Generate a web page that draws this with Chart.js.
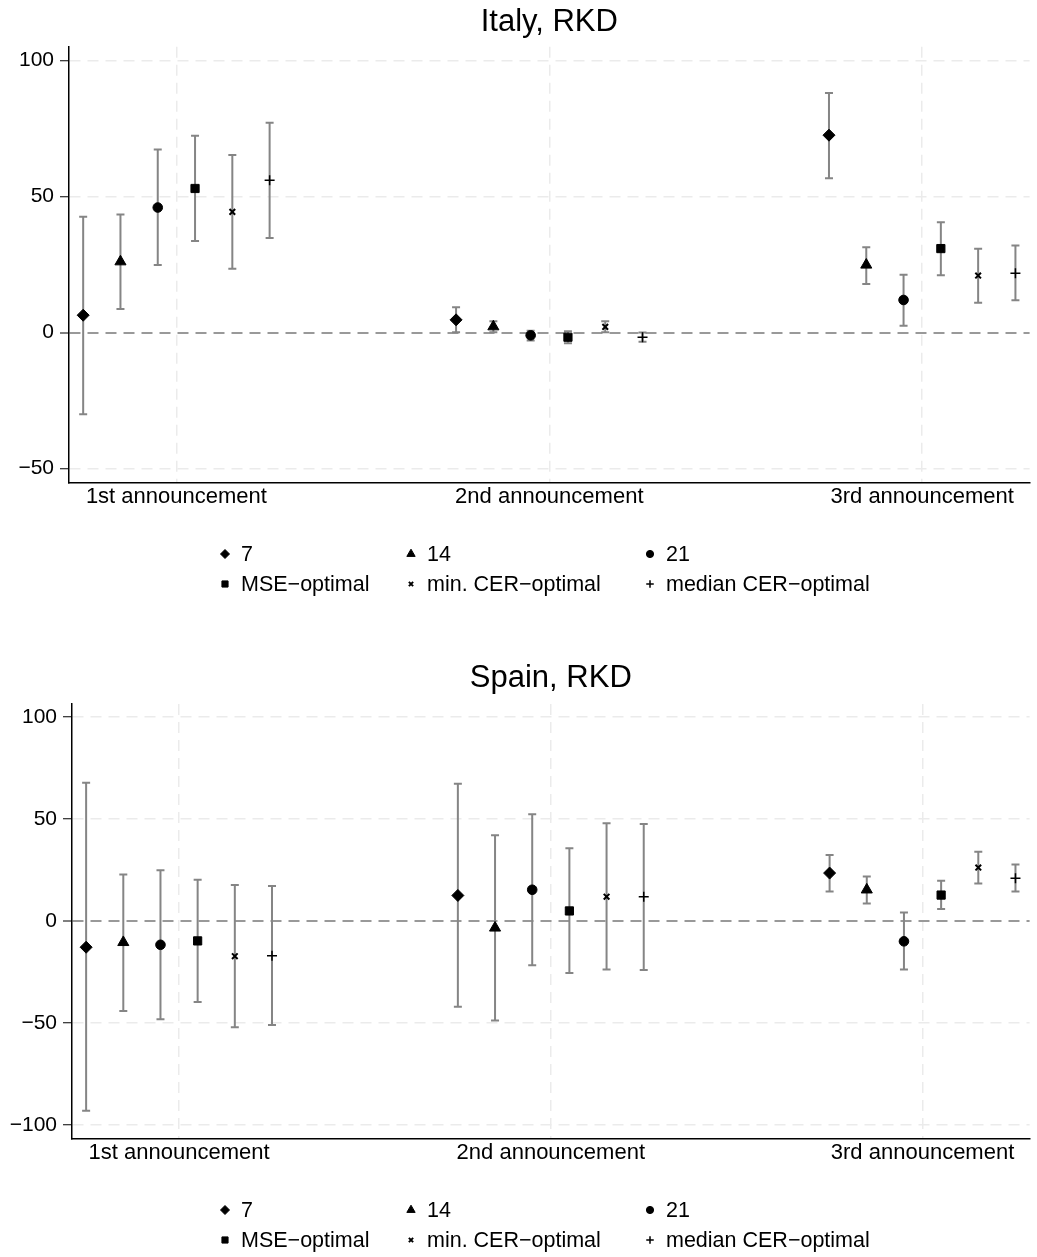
<!DOCTYPE html>
<html lang="en">
<head>
    <meta charset="UTF-8">
    <title>RKD estimates by announcement</title>
    <script src="https://cdn.jsdelivr.net/npm/chart.js"></script>
    <style>
        body { margin: 0; background: #fff; }
        .panel { position: absolute; left: 0; width: 1037px; }
        #italy-panel { top: 0; height: 628px; }
        #spain-panel { top: 628px; height: 629px; }
    </style>
</head>
<body>
    <div class="panel" id="italy-panel"><canvas id="italy-chart" width="1037" height="628"></canvas></div>
    <div class="panel" id="spain-panel"><canvas id="spain-chart" width="1037" height="629"></canvas></div>

    <script>
        // Categories and bandwidth choices
        const announcements = ['1st announcement', '2nd announcement', '3rd announcement'];
        const bandwidths = ['7', '14', '21', 'MSE\u2212optimal', 'min. CER\u2212optimal', 'median CER\u2212optimal'];

        // Italy: one row per bandwidth, one column per announcement
        const italyEst = [
            [6.4, 4.7, 72.6],
            [26.1, 2.2, 24.9],
            [46.0, -1.0, 12.0],
            [53.0, -1.7, 30.9],
            [44.4, 2.1, 21.0],
            [56.0, -1.7, 21.8]
        ];
        const italyLow = [
            [-30.0, 0.1, 56.8],
            [8.7, 0.1, 17.9],
            [24.9, -2.9, 2.5],
            [33.7, -3.9, 21.1],
            [23.5, 0.1, 11.0],
            [34.8, -3.4, 11.9]
        ];
        const italyHigh = [
            [42.6, 9.3, 88.1],
            [43.4, 4.2, 31.4],
            [67.3, 0.7, 21.3],
            [72.4, 0.5, 40.6],
            [65.3, 4.2, 30.8],
            [77.2, 0.0, 32.0]
        ];
        const italyTicks = [-50, 0, 50, 100];

        // Spain
        const spainEst = [
            [-12.9, 12.5, 23.5],
            [-10.5, -3.4, 15.3],
            [-11.7, 15.3, -10.0],
            [-9.8, 4.9, 12.7],
            [-17.3, 11.9, 26.2],
            [-17.1, 11.9, 21.0]
        ];
        const spainLow = [
            [-93.1, -42.1, 14.5],
            [-44.2, -48.9, 8.6],
            [-48.3, -21.7, -23.8],
            [-39.8, -25.6, 5.9],
            [-52.2, -23.8, 18.4],
            [-51.0, -24.1, 14.5]
        ];
        const spainHigh = [
            [67.8, 67.3, 32.4],
            [22.8, 42.0, 21.8],
            [24.9, 52.3, 4.1],
            [20.2, 35.7, 19.7],
            [17.6, 47.9, 33.9],
            [17.1, 47.6, 27.7]
        ];
        const spainTicks = [-100, -50, 0, 50, 100];

        Chart.defaults.font.family = "'Liberation Sans', Arial, sans-serif";
        Chart.defaults.color = '#000';

        // marker look for each bandwidth
        const markerStyle = ['rectRot', 'triangle', 'circle', 'rect', 'crossRot', 'cross'];
        const markerRadius = [6, 6.4, 4.8, 5.8, 4, 5];
        const markerBorder = [1, 1, 1, 1, 2, 1.5];

        // vertical confidence intervals with caps, drawn under the markers
        const errorBars = {
            id: 'errorBars',
            beforeDatasetsDraw(chart) {
                const { ctx, scales: { x, y } } = chart;
                ctx.save();
                ctx.strokeStyle = '#858585';
                ctx.lineWidth = 2;
                chart.data.datasets.forEach(ds => {
                    ds.data.forEach((pt, i) => {
                        const px = x.getPixelForValue(pt.x);
                        const top = y.getPixelForValue(ds.high[i]);
                        const bot = y.getPixelForValue(ds.low[i]);
                        ctx.beginPath();
                        ctx.moveTo(px, top); ctx.lineTo(px, bot);
                        ctx.moveTo(px - 4, top); ctx.lineTo(px + 4, top);
                        ctx.moveTo(px - 4, bot); ctx.lineTo(px + 4, bot);
                        ctx.stroke();
                    });
                });
                ctx.restore();
            }
        };

        // legend in a 3 x 2 grid below the plot
        const markerLegend = {
            id: 'markerLegend',
            afterDraw(chart, args, opts) {
                const ctx = chart.ctx;
                const cols = [225, 411, 650];
                ctx.save();
                ctx.font = "21.5px 'Liberation Sans', Arial, sans-serif";
                ctx.textBaseline = 'middle';
                ctx.fillStyle = '#000';
                ctx.strokeStyle = '#000';
                chart.data.datasets.forEach((ds, k) => {
                    const cx = cols[k % 3];
                    const cy = opts.rows[Math.floor(k / 3)];
                    ctx.lineWidth = markerBorder[k];
                    Chart.helpers.drawPoint(ctx, {
                        pointStyle: markerStyle[k],
                        radius: markerRadius[k] * 0.75,
                        rotation: 0,
                        borderWidth: markerBorder[k]
                    }, cx, cy);
                    ctx.fillText(ds.label, cx + 16, cy + 1);
                });
                ctx.restore();
            }
        };

        function buildDatasets(est, low, high) {
            return bandwidths.map((label, k) => ({
                label: label,
                data: est[k].map((v, g) => ({ x: g + 1 + (k - 2.5) * 0.1, y: v })),
                low: low[k],
                high: high[k],
                pointStyle: markerStyle[k],
                pointRadius: markerRadius[k],
                pointHoverRadius: markerRadius[k],
                pointBorderWidth: markerBorder[k],
                backgroundColor: '#000',
                borderColor: '#000',
                showLine: false
            }));
        }

        function makeChart(id, cfg) {
            return new Chart(document.getElementById(id), {
                type: 'scatter',
                data: { datasets: buildDatasets(cfg.est, cfg.low, cfg.high) },
                options: {
                    responsive: false,
                    animation: false,
                    layout: { padding: { left: 0, right: cfg.padRight, top: 0, bottom: cfg.padBottom } },
                    plugins: {
                        legend: { display: false },
                        tooltip: { enabled: false },
                        title: {
                            display: true,
                            text: cfg.title,
                            fullSize: false,
                            font: { size: 31, weight: 'normal' },
                            color: '#000',
                            padding: cfg.titlePad
                        },
                        markerLegend: { rows: cfg.legendRows }
                    },
                    scales: {
                        x: {
                            type: 'linear',
                            min: 0.712,
                            max: 3.288,
                            afterBuildTicks: s => { s.ticks = [1, 2, 3].map(v => ({ value: v })); },
                            afterFit: s => { s.height = 30; },
                            ticks: {
                                font: { size: 22 },
                                color: '#000',
                                padding: 1,
                                maxRotation: 0,
                                callback: v => announcements[v - 1]
                            },
                            grid: { color: '#ebebeb', lineWidth: 1.5, drawTicks: false },
                            border: { color: '#000', width: 1.5, dash: [11, 7] }
                        },
                        y: {
                            min: cfg.yMin,
                            max: cfg.yMax,
                            afterBuildTicks: s => { s.ticks = cfg.ticks.map(v => ({ value: v })); },
                            afterFit: s => { s.width = cfg.axisWidth; },
                            ticks: {
                                font: { size: 21 },
                                color: '#000',
                                padding: 6,
                                callback: v => v < 0 ? '\u2212' + Math.abs(v) : String(v)
                            },
                            grid: {
                                color: c => c.tick && c.tick.value === 0 ? '#999999' : '#ebebeb',
                                lineWidth: c => c.tick && c.tick.value === 0 ? 2 : 1.5,
                                tickColor: '#000',
                                tickWidth: 1,
                                tickLength: 9
                            },
                            border: { color: '#000', width: 1.5, dash: [11, 7] }
                        }
                    }
                },
                plugins: [errorBars, markerLegend]
            });
        }

        makeChart('italy-chart', {
            title: 'Italy, RKD',
            est: italyEst, low: italyLow, high: italyHigh, ticks: italyTicks,
            yMin: -55.3, yMax: 105.1,
            axisWidth: 69, padRight: 0, padBottom: 115,
            titlePad: { top: 3.4, bottom: 6.2 },
            legendRows: [554, 584]
        });

        makeChart('spain-chart', {
            title: 'Spain, RKD',
            est: spainEst, low: spainLow, high: spainHigh, ticks: spainTicks,
            yMin: -107, yMax: 106.5,
            axisWidth: 72, padRight: 4, padBottom: 88,
            titlePad: { top: 31.4, bottom: 7.3 },
            legendRows: [582, 612]
        });
    </script>
</body>
</html>
